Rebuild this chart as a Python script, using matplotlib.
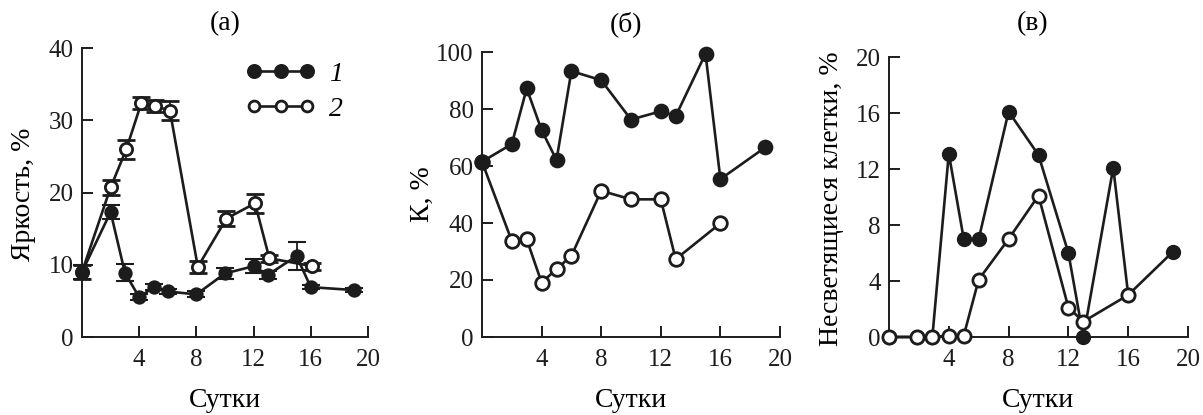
import matplotlib
matplotlib.use("Agg")
import matplotlib.pyplot as plt
from matplotlib.lines import Line2D

plt.rcParams['font.family'] = ['Liberation Serif', 'DejaVu Serif']

# Panel (a): brightness, %
a_x1 = [0, 2, 3, 4, 5, 6, 8, 10, 12, 13, 15, 16, 19]
a_y1 = [9.0, 17.3, 8.9, 5.5, 6.9, 6.3, 5.9, 8.8, 9.8, 8.6, 11.2, 6.9, 6.5]
a_e1 = [1.0, 1.0, 1.2, 0.4, 0.4, 0.4, 0.4, 0.8, 1.0, 0.6, 1.9, 0.3, 0.3]
a_x2 = [0, 2, 3.1, 4.15, 5.1, 6.15, 8.1, 10.1, 12.1, 13.1, 16.1]
a_y2 = [9.0, 20.7, 26.0, 32.4, 32.0, 31.3, 9.7, 16.4, 18.5, 10.9, 9.8]
a_e2 = [1.0, 1.0, 1.3, 0.8, 0.8, 1.3, 0.8, 1.0, 1.3, 0.5, 0.5]

# Panel (b): K, %
b_x1 = [0, 2, 3, 4, 5, 6, 8, 10, 12, 13, 15, 16, 19]
b_y1 = [61.5, 67.7, 87.2, 72.6, 62.1, 93.3, 90.1, 76.3, 79.2, 77.5, 99.4, 55.4, 66.5]
b_x2 = [0, 2, 3, 4, 5, 6, 8, 10, 12, 13, 16]
b_y2 = [61.5, 33.7, 34.3, 19.1, 23.8, 28.5, 51.3, 48.3, 48.3, 27.3, 39.9]

# Panel (c): non-luminous cells, %
c_x1 = [0, 1.9, 2.9, 4, 5, 6, 8, 10, 12, 13, 15, 16, 19]
c_y1 = [0, 0, 0, 13.1, 7.0, 7.0, 16.1, 13.0, 6.0, 0, 12.1, 3.0, 6.1]
c_x2 = [0, 1.9, 2.9, 4, 5, 6, 8, 10, 12, 13, 16]
c_y2 = [0, 0, 0, 0.1, 0.1, 4.1, 7.0, 10.1, 2.1, 1.1, 3.0]

xticks = [4, 8, 12, 16, 20]
a_yticks = [0, 10, 20, 30, 40]
b_yticks = [0, 20, 40, 60, 80, 100]
c_yticks = [0, 4, 8, 12, 16, 20]

titles = ['(а)', '(б)', '(в)']
ylabels = ['Яркость, %', 'К, %', 'Несветящиеся клетки, %']
xlabel = 'Сутки'
legend_labels = ['1', '2']

W, H = 1203, 415
fig = plt.figure(figsize=(W / 100, H / 100), dpi=100)

col = '#1c1c1c'
FS = 18     # tick labels
LFS = 20    # axis labels / titles

def make_ax(left, right, top, bottom=337):
    return fig.add_axes([left / W, 1 - bottom / H, (right - left) / W, (bottom - top) / H])

axA = make_ax(82, 368, 48)
axB = make_ax(482, 780, 52)
axC = make_ax(889, 1188, 57)

lw = 1.9

def k1(ms):
    return dict(color=col, lw=lw, marker='o', ms=ms, mfc=col, mec=col, mew=1.5)

def k2(ms):
    return dict(color=col, lw=lw, marker='o', ms=ms, mfc='white', mec=col, mew=2.0)

# panel a
ebkw = dict(capsize=6.5, elinewidth=1.3, capthick=1.3, ecolor=col)
axA.errorbar(a_x2, a_y2, yerr=a_e2, zorder=2, **ebkw, **k2(8.8))
axA.errorbar(a_x1, a_y1, yerr=a_e1, zorder=3, **ebkw, **k1(8.8))

# panel b
axB.plot(b_x2, b_y2, zorder=2, **k2(9.8))
axB.plot(b_x1, b_y1, zorder=3, **k1(9.8))

# panel c
axC.plot(c_x1, c_y1, zorder=2, **k1(9.5))
axC.plot(c_x2, c_y2, zorder=3, **k2(9.5))

# legend for panel a
h1 = Line2D([], [], **k1(9.3))
h2 = Line2D([], [], **k2(7.8))
axA.legend([h1, h2], legend_labels, loc='upper right', frameon=False, numpoints=3,
           handlelength=2.5, handletextpad=0.5, labelspacing=0.35,
           bbox_to_anchor=(1.0, 1.04),
           prop=dict(family='Liberation Serif', style='italic', size=LFS))

ylims = [(0, 40), (0, 100), (0, 20)]
yticks = [a_yticks, b_yticks, c_yticks]
for ax, yl, yt in zip([axA, axB, axC], ylims, yticks):
    ax.set_xlim(0, 20)
    ax.set_ylim(*yl)
    ax.set_xticks(xticks)
    ax.set_yticks(yt)
    for s in ['top', 'right']:
        ax.spines[s].set_visible(False)
    for s in ['left', 'bottom']:
        ax.spines[s].set_linewidth(1.4)
        ax.spines[s].set_color(col)
    ax.tick_params(direction='in', length=8, width=1.4, colors=col, labelsize=FS, pad=6)
    ax.tick_params(axis='x', pad=9)
    for line in ax.get_lines():
        line.set_clip_on(False)
    for coll in ax.collections:
        coll.set_clip_on(False)

# titles and labels
fig.text(225 / W, 1 - 24 / H, titles[0], ha='center', va='center', fontsize=LFS)
fig.text(626 / W, 1 - 24 / H, titles[1], ha='center', va='center', fontsize=LFS)
fig.text(1033 / W, 1 - 24 / H, titles[2], ha='center', va='center', fontsize=LFS)

for xc in [225, 631, 1038]:
    fig.text(xc / W, 1 - 407 / H, xlabel, ha='center', va='baseline', fontsize=LFS)

fig.text(23 / W, 1 - 194 / H, ylabels[0], ha='center', va='center', rotation=90, fontsize=LFS)
fig.text(422 / W, 1 - 194 / H, ylabels[1], ha='center', va='center', rotation=90, fontsize=LFS)
fig.text(831 / W, 1 - 199 / H, ylabels[2], ha='center', va='center', rotation=90, fontsize=LFS)

fig.savefig('out.png', dpi=100)
